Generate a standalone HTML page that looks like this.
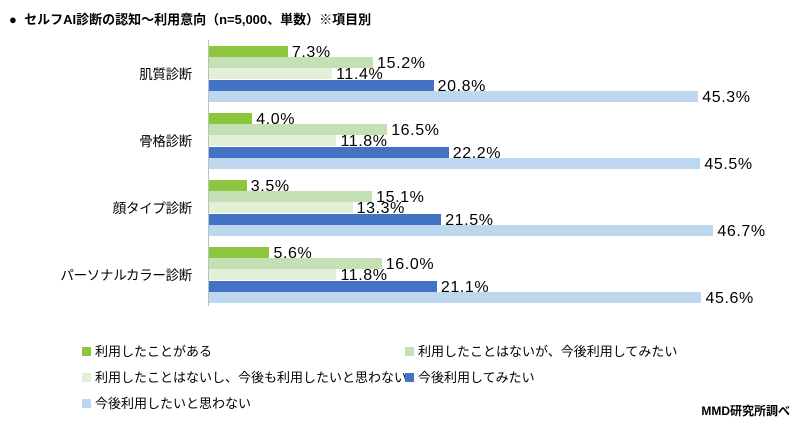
<!DOCTYPE html>
<html><head><meta charset="utf-8"><style>
body{margin:0;width:800px;height:426px;background:#fff;font-family:"Liberation Sans","Noto Sans CJK JP",sans-serif;position:relative;overflow:hidden;color:#000}
.a{position:absolute;white-space:nowrap}
.b{position:absolute;height:11px;left:209px}
.l{position:absolute;font-size:16px;line-height:16px;letter-spacing:0.6px}
.c{position:absolute;font-size:13.5px;line-height:15px;text-align:right;width:192px;left:0;letter-spacing:-0.3px}
.sq{position:absolute;width:9px;height:9px}
.lg{position:absolute;font-size:13px;line-height:14px}
</style></head><body>
<div class="a" style="left:9px;top:9px;font-size:13px;font-weight:bold">●&nbsp; セルフAI診断の認知～利用意向（n=5,000、単数）※項目別</div>
<div class="a" style="left:208px;top:40px;width:1px;height:266px;background:#bfbfbf"></div>
<div id="g"></div>
<script>
var data=[["肌質診断",[7.3,15.2,11.4,20.8,45.3]],["骨格診断",[4.0,16.5,11.8,22.2,45.5]],["顔タイプ診断",[3.5,15.1,13.3,21.5,46.7]],["パーソナルカラー診断",[5.6,16.0,11.8,21.1,45.6]]];
var col=["#8cc63e","#c5e0b4","#e2f0d9","#4472c4","#bdd7ee"];
var h="";
data.forEach(function(d,i){var y0=46+i*67;
h+='<div class="c" style="top:'+(y0+21)+'px">'+d[0]+'</div>';
d[1].forEach(function(v,j){var y=y0+j*11.2,w=v*10.8;
h+='<div class="b" style="top:'+y+'px;width:'+w+'px;background:'+col[j]+'"></div>';
h+='<div class="l" style="left:'+(209+w+4)+'px;top:'+(y-1)+'px">'+v.toFixed(1)+'%</div>';});});
document.getElementById("g").innerHTML=h;
</script>
<div class="sq" style="left:82px;top:347px;background:#8cc63e"></div><div class="lg" style="left:95px;top:345px">利用したことがある</div>
<div class="sq" style="left:405px;top:347px;background:#c5e0b4"></div><div class="lg" style="left:418px;top:345px">利用したことはないが、今後利用してみたい</div>
<div class="sq" style="left:82px;top:373px;background:#e2f0d9"></div><div class="lg" style="left:95px;top:371px">利用したことはないし、今後も利用したいと思わない</div>
<div class="sq" style="left:405px;top:373px;background:#4472c4"></div><div class="lg" style="left:418px;top:371px">今後利用してみたい</div>
<div class="sq" style="left:82px;top:399px;background:#bdd7ee"></div><div class="lg" style="left:95px;top:397px">今後利用したいと思わない</div>
<div class="a" style="right:10px;top:402px;font-size:12px;font-weight:bold">MMD研究所調べ</div>
</body></html>
